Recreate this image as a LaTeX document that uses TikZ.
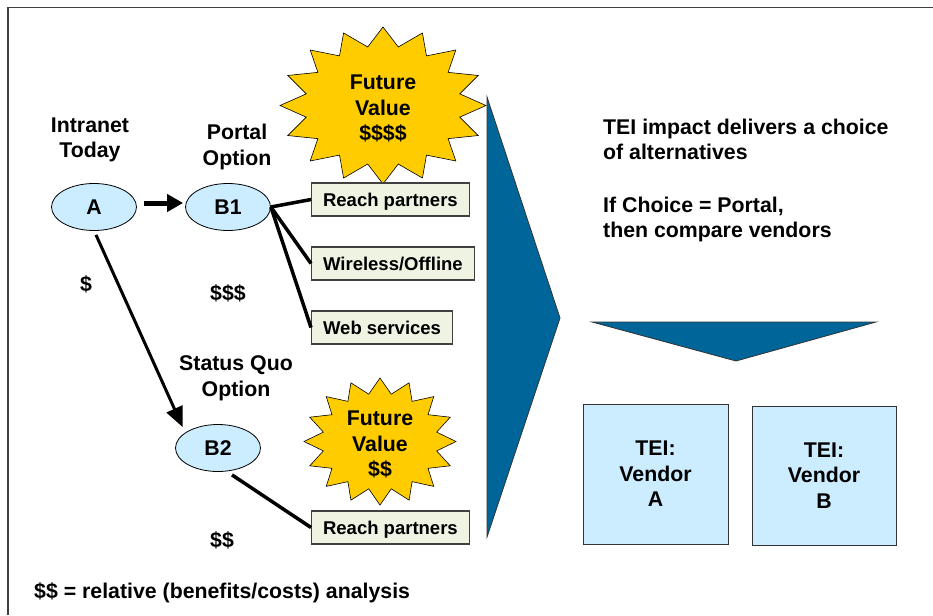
\documentclass[tikz,border=0pt]{standalone}
\usepackage{fontspec}
\setmainfont{Liberation Sans}
\usetikzlibrary{arrows.meta,shapes.geometric}
\definecolor{skyfill}{HTML}{CCECFF}
\definecolor{notefill}{HTML}{EEF3E2}
\definecolor{starfill}{HTML}{FFCC00}
\definecolor{deepblue}{HTML}{006699}
\definecolor{framegray}{HTML}{404040}

\begin{document}
\begin{tikzpicture}[x=1pt,y=-1pt,
  every node/.style={font=\bfseries\fontsize{21.3}{25.5}\selectfont, align=center, inner sep=0pt},
  option/.style={ellipse, draw=black, line width=0.8pt, fill=skyfill,
    minimum width=85pt, minimum height=47pt},
  feature/.style={draw=black!75, line width=1.2pt, fill=notefill,
    font=\bfseries\fontsize{18.5}{22}\selectfont, inner xsep=11.5pt,
    text height=13.3pt, text depth=0pt, minimum height=33pt},
  vendor/.style={draw=black!80, line width=1pt, fill=skyfill,
    minimum width=145pt, minimum height=140pt},
  link/.style={line width=3.5pt},
  burst/.style={fill=starfill, draw=black, line width=0.6pt},
  chevron/.style={fill=deepblue, draw=black!80, line width=0.8pt}]

\useasboundingbox (0,0) rectangle (933,615);

% page frame (only top and left edges show)
\draw[framegray, line width=1.6pt] (8,615) -- (8,7.5) -- (933,7.5);

% 16-point bursts
\filldraw[burst] plot[domain=0:31, samples=32]
  ({383+103*(1-0.24*mod(round(\x),2))*sin(\x*11.25)},
   {105.5-78.5*(1-0.24*mod(round(\x),2))*cos(\x*11.25)}) -- cycle;
\filldraw[burst] plot[domain=0:31, samples=32]
  ({380+76*(1-0.24*mod(round(\x),2))*sin(\x*11.25)},
   {441.5-63.5*(1-0.24*mod(round(\x),2))*cos(\x*11.25)}) -- cycle;

% big block arrows
\filldraw[chevron] (487,97) -- (560,318) -- (487,537) -- cycle;
\filldraw[chevron] (592,322) -- (876,322) -- (736,361) -- cycle;

% option nodes
\node[option] (A) at (94,207) {A};
\node[option] (B1) at (228,207) {B1};
\node[option] (B2) at (218,448) {B2};

\node (intranet) at (90,140) {Intranet\\Today};
\node (portal) at (237,147) {Portal\\Option};
\node (statusquo) at (236,378.5) {Status Quo\\Option};
\node (fv1) at (383,108.5) {Future\\Value\\\$\$\$\$};
\node (fv2) at (380,444.5) {Future\\Value\\\$\$};

\node (cost0) at (86,284) {\$};
\node (cost1) at (228,293) {\$\$\$};
\node (cost2) at (222,540) {\$\$};
\node[anchor=west] (legend) at (34,592.5) {\$\$ = relative (benefits/costs) analysis};

% features
\node[feature, anchor=west] (rp1) at (311,199.5) {Reach partners};
\node[feature, anchor=west] (wo) at (311,263.5) {Wireless/Offline};
\node[feature, anchor=west] (ws) at (311,327.5) {Web services};
\node[feature, anchor=west] (rp2) at (311,527.5) {Reach partners};

% right-hand notes
\node[anchor=west, align=left] (impact) at (603,139.5) {TEI impact delivers a choice\\of alternatives};
\node[anchor=west, align=left] (ifchoice) at (603,219.5) {If Choice = Portal,\\then compare vendors};

\node[vendor] (va) at (655.5,474) {TEI:\\Vendor\\A};
\node[vendor, minimum width=144pt, minimum height=139pt] (vb) at (824,475.5) {TEI:\\Vendor\\B};

% connectors
\draw[-{Triangle[length=16pt,width=17pt]}, line width=5pt, shorten <=7pt, shorten >=2pt]
  ([yshift=4pt]A.east) -- ([yshift=4pt]B1.west);
\draw[-{Triangle[length=20pt,width=17pt]}, line width=3pt]
  ([shift={(2,4)}]A.south) -- ([shift={(-5,-4)}]B2.north west);
\draw[link] (B1.east) -- (rp1.west);
\draw[link] (B1.east) -- (wo.west);
\draw[link] (B1.east) -- (ws.west);
\draw[link] ([shift={(14,3)}]B2.south) -- (rp2.west);
\end{tikzpicture}
\end{document}
